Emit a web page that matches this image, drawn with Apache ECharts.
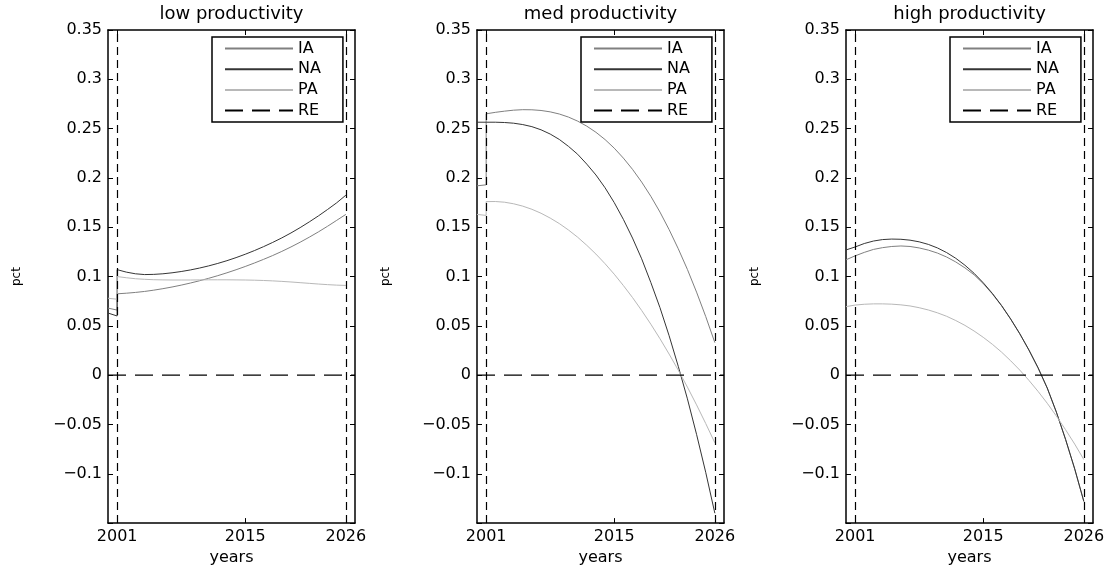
<!DOCTYPE html>
<html><head><meta charset="utf-8">
<script src="https://cdn.jsdelivr.net/npm/echarts@6/dist/echarts.min.js"></script>
<style>html,body{margin:0;padding:0;background:#fff}#c{width:1113px;height:571px}</style>
</head><body><div id="c"></div>
<script>
// x values: 2000, 2001 (before jump), 2001 (after jump), 2002 ... 2026
const years = [2000, 2001, 2001, 2002, 2003, 2004, 2005, 2006, 2007, 2008, 2009, 2010, 2011, 2012, 2013, 2014, 2015, 2016, 2017, 2018, 2019, 2020, 2021, 2022, 2023, 2024, 2025, 2026];
const seriesNames = ['IA', 'NA', 'PA', 'RE'];
const titles = ['low productivity', 'med productivity', 'high productivity'];
const xTicks = [2001, 2015, 2026];
const reYears = [2000, 2027];
const reValues = [0, 0];
const reVerticalYears = [2001, 2026];

// low productivity
const lowIA = [0.068, 0.066, 0.0825, 0.0831, 0.0839, 0.0849, 0.0862, 0.0877, 0.0894, 0.0913, 0.0934, 0.0957, 0.0982, 0.1009, 0.1038, 0.1069, 0.1102, 0.1137, 0.1174, 0.1213, 0.1255, 0.1300, 0.1348, 0.1399, 0.1453, 0.1510, 0.1570, 0.1630];
const lowNA = [0.063, 0.060, 0.107, 0.1045, 0.1028, 0.1020, 0.1022, 0.1028, 0.1038, 0.1051, 0.1067, 0.1086, 0.1108, 0.1133, 0.1161, 0.1192, 0.1226, 0.1263, 0.1303, 0.1346, 0.1392, 0.1442, 0.1496, 0.1554, 0.1615, 0.1680, 0.1748, 0.1825];
const lowPA = [0.078, 0.077, 0.100, 0.0988, 0.0978, 0.0972, 0.0968, 0.0966, 0.0965, 0.0965, 0.0965, 0.0966, 0.0967, 0.0967, 0.0967, 0.0966, 0.0965, 0.0963, 0.096, 0.0956, 0.0951, 0.0945, 0.0938, 0.0931, 0.0924, 0.0918, 0.0913, 0.091];
// med productivity
const medIA = [0.192, 0.193, 0.265, 0.2665, 0.2677, 0.2687, 0.2692, 0.2691, 0.2684, 0.2670, 0.2648, 0.2617, 0.2576, 0.2525, 0.2463, 0.2389, 0.2302, 0.2201, 0.2087, 0.1958, 0.1814, 0.1654, 0.1476, 0.1282, 0.1072, 0.0842, 0.0595, 0.033];
const medNA = [0.2565, 0.2565, 0.2565, 0.2565, 0.2562, 0.2555, 0.2541, 0.252, 0.2488, 0.2445, 0.239, 0.232, 0.224, 0.214, 0.203, 0.190, 0.175, 0.158, 0.139, 0.118, 0.094, 0.0685, 0.040, 0.009, -0.024, -0.060, -0.0985, -0.140];
const medPA = [0.163, 0.162, 0.176, 0.1761, 0.1754, 0.1738, 0.1714, 0.1682, 0.1642, 0.1593, 0.1537, 0.1472, 0.1399, 0.1317, 0.1228, 0.1130, 0.1024, 0.0909, 0.0787, 0.0656, 0.0517, 0.0370, 0.0214, 0.0051, -0.0121, -0.0301, -0.049, -0.0686];
// high productivity
const highIA = [0.117, 0.121, 0.121, 0.1245, 0.1275, 0.1293, 0.1305, 0.131, 0.1305, 0.129, 0.1268, 0.1238, 0.1198, 0.1148, 0.1088, 0.1018, 0.0929, 0.0824, 0.0704, 0.0568, 0.0418, 0.0253, 0.0072, -0.0132, -0.0377, -0.0652, -0.0952, -0.1282];
const highNA = [0.127, 0.130, 0.130, 0.1335, 0.136, 0.1375, 0.138, 0.1378, 0.1369, 0.1352, 0.1326, 0.129, 0.1243, 0.1185, 0.1115, 0.1033, 0.0937, 0.0829, 0.0707, 0.057, 0.042, 0.0255, 0.0074, -0.013, -0.0375, -0.065, -0.095, -0.128];
const highPA = [0.0695, 0.0711, 0.0711, 0.0719, 0.0723, 0.0723, 0.0720, 0.0713, 0.0702, 0.0684, 0.0661, 0.0632, 0.0597, 0.0554, 0.0505, 0.0448, 0.0384, 0.0313, 0.0234, 0.0146, 0.0051, -0.0053, -0.0165, -0.0285, -0.0415, -0.0553, -0.0699, -0.0856];

const panels = [
  {IA: lowIA, NA: lowNA, PA: lowPA},
  {IA: medIA, NA: medNA, PA: medPA},
  {IA: highIA, NA: highNA, PA: highPA}
];

const FONT = 'DejaVu Sans';
const colors = {IA: '#808080', NA: '#353535', PA: '#b8b8b8'};
const gridLefts = [108, 477, 846];
const gridW = 247, gridTop = 30, gridH = 500;

function fmtY(v) {
  if (v < -0.14) return '';
  const r = Math.round(v * 100) / 100;
  return r < 0 ? '\u2212' + String(-r) : String(r);
}

const option = {
  animation: false,
  backgroundColor: '#fff',
  title: [], grid: [], xAxis: [], yAxis: [], legend: [], series: []
};

panels.forEach((p, i) => {
  const L = gridLefts[i];
  option.grid.push({left: L, top: gridTop, width: gridW, height: gridH, containLabel: false});
  option.title.push({
    text: titles[i], left: L + gridW / 2, top: 5, textAlign: 'center', padding: 0,
    textStyle: {fontFamily: FONT, fontSize: 18, fontWeight: 'normal', color: '#000'}
  });
  const axLine = {show: true, onZero: false, lineStyle: {color: '#000', width: 1.5}};
  option.xAxis.push({
    type: 'value', gridIndex: i, position: 'bottom', min: 2000, max: 2027,
    name: 'years', nameLocation: 'middle', nameGap: 23,
    nameTextStyle: {fontFamily: FONT, fontSize: 16, color: '#000'},
    axisLine: axLine, splitLine: {show: false},
    axisTick: {show: true, inside: true, length: 5, customValues: xTicks, lineStyle: {color: '#000', width: 1}},
    axisLabel: {show: true, customValues: xTicks, margin: 6, fontFamily: FONT, fontSize: 16, color: '#000', formatter: v => String(v)}
  });
  option.xAxis.push({
    type: 'value', gridIndex: i, position: 'top', min: 2000, max: 2027,
    axisLine: axLine, splitLine: {show: false},
    axisTick: {show: true, inside: true, length: 5, customValues: xTicks, lineStyle: {color: '#000', width: 1}},
    axisLabel: {show: false}
  });
  option.yAxis.push({
    type: 'value', gridIndex: i, position: 'left', min: -0.15, max: 0.35, interval: 0.05,
    name: 'pct', nameLocation: 'middle', nameGap: 85, nameRotate: 90,
    nameTextStyle: {fontFamily: FONT, fontSize: 12, color: '#000'},
    axisLine: {show: true, onZero: false, lineStyle: {color: '#000', width: 1.5}}, splitLine: {show: false},
    axisTick: {show: true, inside: true, length: 5, lineStyle: {color: '#000', width: 1}},
    axisLabel: {show: true, margin: 6, fontFamily: FONT, fontSize: 16, color: '#000', formatter: fmtY}
  });
  option.yAxis.push({
    type: 'value', gridIndex: i, position: 'right', min: -0.15, max: 0.35, interval: 0.05,
    axisLine: {show: true, onZero: false, lineStyle: {color: '#000', width: 1.5}}, splitLine: {show: false},
    axisTick: {show: true, inside: true, length: 5, lineStyle: {color: '#000', width: 1}},
    axisLabel: {show: false}
  });
  option.legend.push({
    data: seriesNames, orient: 'vertical', left: L + 104, top: 37,
    itemWidth: 68, itemHeight: 14, itemGap: 4.7,
    padding: [3.5, 22, 3.5, 12],
    borderColor: '#000', borderWidth: 1.5, backgroundColor: '#fff',
    selectedMode: false,
    itemStyle: {opacity: 0, borderWidth: 0},
    textStyle: {fontFamily: FONT, fontSize: 16, color: '#000', lineHeight: 14}
  });
  ['IA', 'NA', 'PA'].forEach(n => {
    option.series.push({
      name: n, type: 'line', xAxisIndex: 2 * i, yAxisIndex: 2 * i,
      symbol: 'none', showSymbol: false, silent: true,
      lineStyle: {color: colors[n], width: 1},
      itemStyle: {color: colors[n]},
      data: years.map((y, k) => [y, p[n][k]])
    });
  });
  option.series.push({
    name: 'RE', type: 'line', xAxisIndex: 2 * i, yAxisIndex: 2 * i,
    symbol: 'none', showSymbol: false, silent: true,
    lineStyle: {color: '#000', width: 1.2, type: [18, 9]},
    itemStyle: {color: '#000'},
    data: reYears.map((y, k) => [y, reValues[k]]),
    markLine: {
      silent: true, symbol: ['none', 'none'], label: {show: false},
      lineStyle: {color: '#000', width: 1.2, type: [8, 5]},
      emphasis: {disabled: true},
      data: reVerticalYears.map(x => ({xAxis: x}))
    }
  });
});

const chart = echarts.init(document.getElementById('c'), null, {renderer: 'canvas'});
chart.setOption(option);
</script>
</body></html>
